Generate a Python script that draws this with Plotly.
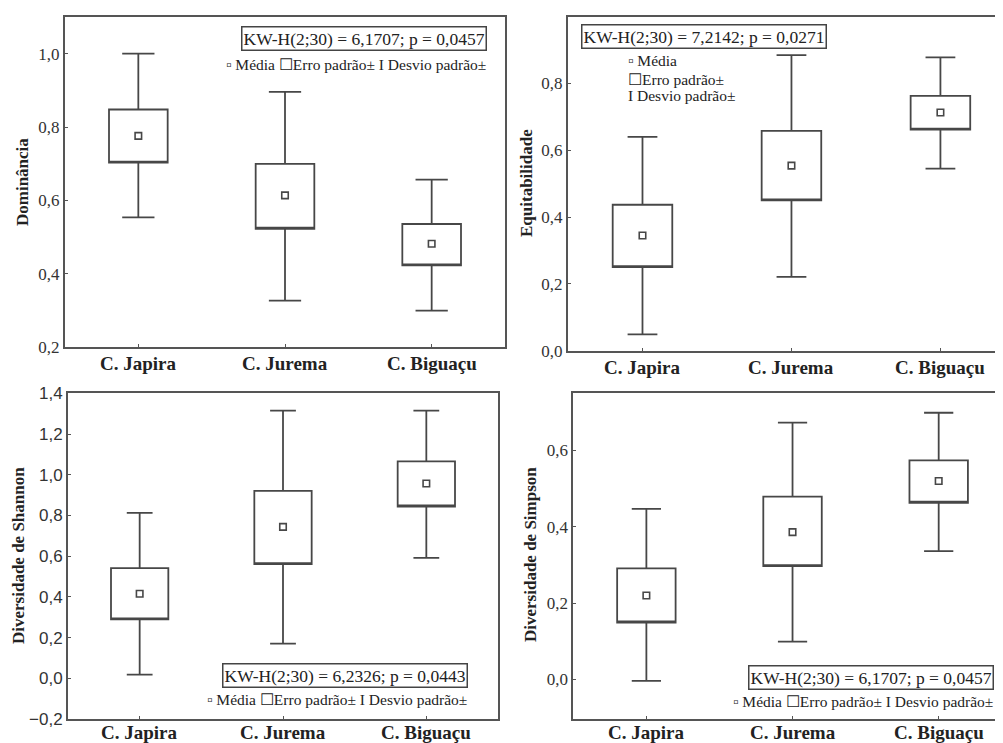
import plotly.graph_objects as go

cats = ["C. Japira", "C. Jurema", "C. Biguaçu"]

# Dominância
dom_mean = [0.776, 0.614, 0.482]
dom_se_lo = [0.703, 0.523, 0.423]
dom_se_hi = [0.848, 0.700, 0.536]
dom_sd_lo = [0.554, 0.327, 0.300]
dom_sd_hi = [1.000, 0.896, 0.657]

# Equitabilidade
eq_mean = [0.345, 0.554, 0.713]
eq_se_lo = [0.250, 0.450, 0.662]
eq_se_hi = [0.437, 0.658, 0.763]
eq_sd_lo = [0.049, 0.221, 0.545]
eq_sd_hi = [0.640, 0.885, 0.878]

# Diversidade de Shannon
sh_mean = [0.415, 0.744, 0.957]
sh_se_lo = [0.289, 0.561, 0.844]
sh_se_hi = [0.541, 0.921, 1.066]
sh_sd_lo = [0.018, 0.170, 0.592]
sh_sd_hi = [0.813, 1.315, 1.315]

# Diversidade de Simpson
si_mean = [0.220, 0.386, 0.520]
si_se_lo = [0.149, 0.297, 0.463]
si_se_hi = [0.291, 0.479, 0.574]
si_sd_lo = [-0.004, 0.099, 0.336]
si_sd_hi = [0.447, 0.673, 0.699]

kw_texts = ["KW-H(2;30) = 6,1707; p = 0,0457",
            "KW-H(2;30) = 7,2142; p = 0,0271",
            "KW-H(2;30) = 6,2326; p = 0,0443",
            "KW-H(2;30) = 6,1707; p = 0,0457"]
ytitles = ["Dominância", "Equitabilidade", "Diversidade de Shannon", "Diversidade de Simpson"]

W, H = 1003, 743
OFF = 8  # page body margin
LC = "#474747"
SERIF = "Liberation Serif, Times New Roman, serif"
SANS = "Liberation Sans, Arial, sans-serif"

def px(x):
    return (x - OFF) / W

def py(y):
    return 1 - (y - OFF) / H

panels = [
    dict(mean=dom_mean, lo=dom_se_lo, hi=dom_se_hi, sdlo=dom_sd_lo, sdhi=dom_sd_hi,
         xd=[px(65), px(505)], yd=[py(347.3), py(17)], yr=[0.2, 1.1], xr=[-0.5, 2.5],
         tick0=0.2, font=SERIF, ww=0.55, mirror_y=True, laby=363),
    dict(mean=eq_mean, lo=eq_se_lo, hi=eq_se_hi, sdlo=eq_sd_lo, sdhi=eq_sd_hi,
         xd=[px(568), px(1003)], yd=[py(350.7), py(16.7)], yr=[0.0, 1.0], xr=[-0.5, 2.42],
         tick0=0.0, font=SERIF, ww=0.5, mirror_y=False, laby=367),
    dict(mean=sh_mean, lo=sh_se_lo, hi=sh_se_hi, sdlo=sh_sd_lo, sdhi=sh_sd_hi,
         xd=[px(68), px(498)], yd=[py(719), py(393.3)], yr=[-0.2, 1.4], xr=[-0.5, 2.5],
         tick0=0.0, font=SANS, ww=0.45, mirror_y=True, laby=732),
    dict(mean=si_mean, lo=si_se_lo, hi=si_se_hi, sdlo=si_sd_lo, sdhi=si_sd_hi,
         xd=[px(573.3), px(1003)], yd=[py(719), py(393.3)], yr=[-0.104, 0.75], xr=[-0.5, 2.44],
         tick0=0.0, font=SERIF, ww=0.5, mirror_y=False, laby=732),
]

fig = go.Figure()
layout = dict(width=W, height=H, margin=dict(l=0, r=0, t=0, b=0, autoexpand=False),
              paper_bgcolor="white", plot_bgcolor="white", showlegend=False,
              separators=", ", template="none")
annotations = []

for i, p in enumerate(panels):
    n = "" if i == 0 else str(i + 1)
    xa, ya = "x" + n, "y" + n
    fig.add_trace(go.Box(
        x=cats, q1=p["lo"], median=p["lo"], q3=p["hi"],
        lowerfence=p["sdlo"], upperfence=p["sdhi"],
        fillcolor="white", line=dict(color=LC, width=1.8),
        whiskerwidth=p["ww"], width=0.4, boxpoints=False,
        xaxis=xa, yaxis=ya, hoverinfo="skip"))
    fig.add_trace(go.Scatter(
        x=cats, y=p["mean"], mode="markers",
        marker=dict(symbol="square-open", size=6.5, color=LC, line=dict(width=1.6, color=LC)),
        xaxis=xa, yaxis=ya, hoverinfo="skip"))
    layout["xaxis" + n] = dict(
        domain=p["xd"], anchor=ya, range=p["xr"], type="category",
        categoryorder="array", categoryarray=cats, automargin=False,
        showline=True, linecolor="#555", linewidth=2, mirror=True,
        ticks="inside", ticklen=3, tickcolor="#555", showgrid=False, zeroline=False,
        showticklabels=False)
    layout["yaxis" + n] = dict(
        domain=p["yd"], anchor=xa, range=p["yr"], automargin=False,
        tick0=p["tick0"], dtick=0.2, tickformat=".1f",
        showline=True, linecolor="#555", linewidth=2, mirror=p["mirror_y"],
        ticks="inside", ticklen=3, tickcolor="#555", showgrid=False, zeroline=False,
        tickfont=dict(family=p["font"], size=17, color="#333"))
    # category labels placed on the x axis categories
    for c in cats:
        annotations.append(dict(x=c, xref=xa, y=py(p["laby"]), yref="paper",
                                text="<b>" + c + "</b>", showarrow=False,
                                xanchor="center", yanchor="middle",
                                font=dict(family=SERIF, size=19, color="#222")))

# y-axis titles
for (x, y, t) in [(22, 182, ytitles[0]), (526, 183, ytitles[1]),
                  (18, 556, ytitles[2]), (530, 555, ytitles[3])]:
    annotations.append(dict(x=px(x), y=py(y), xref="paper", yref="paper",
                            text="<b>" + t + "</b>", textangle=-90, showarrow=False,
                            xanchor="center", yanchor="middle",
                            font=dict(family=SERIF, size=17, color="#222")))

# KW boxes
for (x, y, t) in [(364, 38, kw_texts[0]), (704, 36.5, kw_texts[1]),
                  (344.5, 675, kw_texts[2]), (870.5, 677.5, kw_texts[3])]:
    annotations.append(dict(x=px(x), y=py(y), xref="paper", yref="paper", text=t,
                            showarrow=False, xanchor="center", yanchor="middle",
                            bordercolor="#444", borderwidth=1.5, borderpad=1,
                            bgcolor="white",
                            font=dict(family=SERIF, size=17.5, color="#222")))

leg = "▫ Média ☐Erro padrão± I Desvio padrão±"
for (x, y) in [(355.5, 65), (336.5, 699), (862.5, 701)]:
    annotations.append(dict(x=px(x), y=py(y), xref="paper", yref="paper", text=leg,
                            showarrow=False, xanchor="center", yanchor="middle",
                            font=dict(family=SERIF, size=15.5, color="#222")))
for (y, t) in [(60.7, "▫ Média"), (79, "☐Erro padrão±"), (96, "I Desvio padrão±")]:
    annotations.append(dict(x=px(626), y=py(y), xref="paper", yref="paper", text=t,
                            showarrow=False, xanchor="left", yanchor="middle",
                            font=dict(family=SERIF, size=15.5, color="#222")))

layout["annotations"] = annotations
fig.update_layout(**layout)
fig.write_html("out.html")
